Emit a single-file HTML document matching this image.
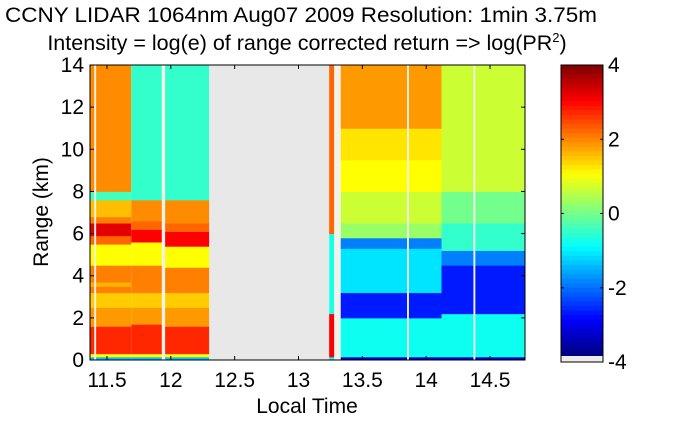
<!DOCTYPE html>
<html><head><meta charset="utf-8"><style>
body{margin:0;background:#fff;width:700px;height:420px;overflow:hidden;font-family:"Liberation Sans",sans-serif}
</style></head><body>
<svg id="c" width="700" height="420" xmlns="http://www.w3.org/2000/svg">
<text x="301" y="22" font-size="21.5" text-anchor="middle" textLength="592" lengthAdjust="spacingAndGlyphs">CCNY LIDAR 1064nm Aug07 2009 Resolution: 1min 3.75m</text>
<text x="307" y="50" font-size="21.5" text-anchor="middle">Intensity = log(e) of range corrected return =&gt; log(PR<tspan dy="-8" font-size="13">2</tspan><tspan dy="8">)</tspan></text>
<g id="plot"></g>
<g id="axes"></g>
<text x="307" y="413" font-size="21" text-anchor="middle">Local Time</text>
<text transform="translate(48,212) rotate(-90)" font-size="21" text-anchor="middle">Range (km)</text>
<g id="cbar"></g>
</svg>
<script>
const segStart=[11.37,11.69,11.955,13.24,13.33,14.12];
const segEnd=[11.69,11.93,12.3,13.28,14.12,14.77];
const segTops=[
[0.15,0.3,1.6,2.5,3.2,3.5,3.7,4.5,5.5,5.9,6.5,6.8,7.6,8,14],
[0.15,0.3,1.7,2.5,3.2,4.5,5.6,6.2,6.6,7.6,14],
[0.15,0.3,1.6,2.5,3.2,4.4,5.4,6.1,6.5,7.6,14],
[0.15,2.2,6,14],
[0.15,2,3.2,5.3,5.8,6.5,8,9.5,11,14],
[0.15,2.2,4.5,5.2,6.5,8,14]];
const segVals=[
[-1.5,1,2.7,1.8,1.4,2,1.6,2,1,2.2,3.2,2,1.5,-0.5,1.9],
[-1.5,1,2.7,1.8,1.4,2,1,3,2.2,1.9,-0.6],
[-1.5,1,2.7,1.8,1.4,2,1,3,2.2,1.9,-0.6],
[-1,3,-0.8,2.2],
[-3.5,-0.9,-2.8,-1.2,-2,0.2,0.6,1.0,1.2,1.8],
[-3.5,-0.9,-2.8,-2,-0.6,-0.1,0.6]];
const gapStart=[11.40,11.93,13.28,13.85,14.37];
const gapEnd=[11.415,11.955,13.33,13.865,14.385];
const noData=[12.3,13.24];
const xTicks=[11.5,12,12.5,13,13.5,14,14.5];
const yTicks=[0,2,4,6,8,10,12,14];
const cTicks=[4,2,0,-2,-4];

const X0=90,X1=525,Y0=360,Y1=65,T0=11.367,T1=14.774;
const x=t=>X0+(t-T0)/(T1-T0)*(X1-X0);
const y=r=>Y0-r/14*(Y0-Y1);
const NS='http://www.w3.org/2000/svg';
function cl(v){return Math.max(0,Math.min(1,v));}
function jet(v){const t=(v+4)/8;const r=cl(1.5-Math.abs(4*t-3)),g=cl(1.5-Math.abs(4*t-2)),b=cl(1.5-Math.abs(4*t-1));return `rgb(${Math.round(r*255)},${Math.round(g*255)},${Math.round(b*255)})`;}
function rect(p,x0,y0,w,h,f){const e=document.createElementNS(NS,'rect');e.setAttribute('x',x0);e.setAttribute('y',y0);e.setAttribute('width',w);e.setAttribute('height',h);e.setAttribute('fill',f);p.appendChild(e);return e;}
const plot=document.getElementById('plot');
const bg=rect(plot,X0,Y1,X1-X0,Y0-Y1,'#fff');


const nd=rect(plot,x(noData[0]),Y1,x(noData[1])-x(noData[0]),Y0-Y1,'#e8e8e8');


segStart.forEach((s,i)=>{let lo=0;segTops[i].forEach((top,j)=>{
 const e=rect(plot,x(s),y(top),x(segEnd[i])-x(s),y(lo)-y(top)+0.5,jet(segVals[i][j]));
 
 
 lo=top;});});
gapStart.forEach((g,i)=>{const e=rect(plot,x(g),Y1,x(gapEnd[i])-x(g),Y0-Y1,'#f2f2ea');
 
 });
const ax=document.getElementById('axes');
const fr=rect(ax,X0,Y1,X1-X0,Y0-Y1,'none');fr.setAttribute('stroke','#000');


function line(p,a,b,c,d){const e=document.createElementNS(NS,'line');e.setAttribute('x1',a);e.setAttribute('y1',b);e.setAttribute('x2',c);e.setAttribute('y2',d);e.setAttribute('stroke','#000');p.appendChild(e);}
function txt(p,s,xx,yy,anc,name){const e=document.createElementNS(NS,'text');e.setAttribute('x',xx);e.setAttribute('y',yy);e.setAttribute('font-size','21');e.setAttribute('text-anchor',anc);e.textContent=s;
 
 
 p.appendChild(e);}
xTicks.forEach(t=>{line(ax,x(t),Y0,x(t),Y0-4);line(ax,x(t),Y1,x(t),Y1+4);txt(ax,String(t),x(t),387,'middle','x-tick-label');});
yTicks.forEach(r=>{line(ax,X0,y(r),X0+4,y(r));line(ax,X1,y(r),X1-4,y(r));txt(ax,String(r),X0-6,y(r)+7,'end','y-tick-label');});
const cb=document.getElementById('cbar');
const CX=561,CW=42,CT=65,CB=362,gray=6;
for(let i=0;i<64;i++){const v=4-8*(i+0.5)/64;const h=(CB-gray-CT)/64;const e=rect(cb,CX,CT+i*h,CW,h+0.6,jet(v));
 
 }
rect(cb,CX,CB-gray,CW,gray,'#ececec');
const cf=rect(cb,CX,CT,CW,CB-CT,'none');cf.setAttribute('stroke','#000');
cTicks.forEach(v=>{const yy=CT+(4-v)/8*(CB-CT);line(cb,CX,yy,CX+3,yy);line(cb,CX+CW,yy,CX+CW-3,yy);txt(cb,String(v),608,yy+7,'start','colorbar-tick-label');});
</script>
</body></html>
